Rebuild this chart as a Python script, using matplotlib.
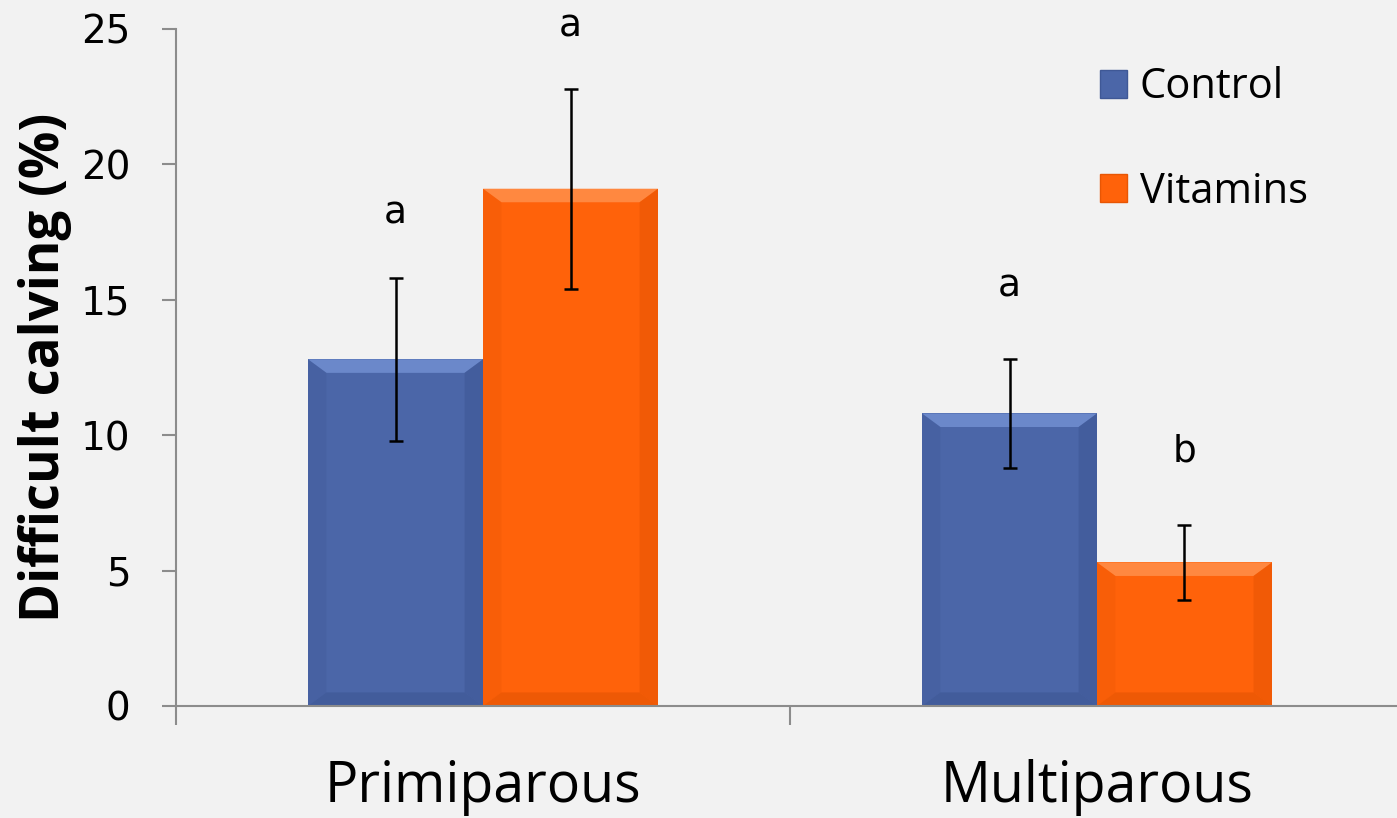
"""
Difficult calving (%) by parity and treatment - grouped bar chart
"""

import numpy as np
import matplotlib.pyplot as plt
from matplotlib.patches import Polygon

# =============================================================================
# 1. Data
# =============================================================================

groups = ["Primiparous", "Multiparous"]
series = ["Control", "Vitamins"]
control_vals = [12.8, 10.8]
vitamins_vals = [19.1, 5.3]
control_err = [3.0, 2.0]
vitamins_err = [3.7, 1.4]
control_letters = ["a", "a"]
vitamins_letters = ["a", "b"]
# height (in %) where each significance letter sits
control_letter_y = [18.2, 15.5]
vitamins_letter_y = [25.1, 9.4]
yticks = [0, 5, 10, 15, 20, 25]

# =============================================================================
# 2. Styles
# =============================================================================

bg = "#f2f2f2"
axis_gray = "#8c8c8c"
colors = {
    "Control": ("#4b66a8", "#6b88ca", "#3f5896"),
    "Vitamins": ("#ff620a", "#ff8840", "#e85604"),
}
bar_w = 0.285
offsets = [-bar_w / 2, bar_w / 2]

fig = plt.figure(figsize=(13.97, 8.18), dpi=100, facecolor=bg)
ax = fig.add_axes([0.126, 0.137, 1.005 - 0.126, 0.8276])
ax.set_facecolor(bg)

x = np.arange(len(groups))


def bevel_bar(ax, xc, h, w, main, light, dark):
    """Draw a bar with a soft bevel look (lighter top, darker sides)."""
    x0, x1 = xc - w / 2, xc + w / 2
    bx, by = 0.03, 0.5  # bevel size in data units
    by = min(by, h / 4)
    ax.add_patch(Polygon([(x0, 0), (x1, 0), (x1, h), (x0, h)],
                         closed=True, facecolor=main, edgecolor="none", zorder=2))
    # top
    ax.add_patch(Polygon([(x0, h), (x1, h), (x1 - bx, h - by), (x0 + bx, h - by)],
                         closed=True, facecolor=light, edgecolor="none", zorder=2))
    # left / right
    ax.add_patch(Polygon([(x0, 0), (x0 + bx, by), (x0 + bx, h - by), (x0, h)],
                         closed=True, facecolor=dark, edgecolor="none", alpha=0.3, zorder=2))
    ax.add_patch(Polygon([(x1, 0), (x1 - bx, by), (x1 - bx, h - by), (x1, h)],
                         closed=True, facecolor=dark, edgecolor="none", alpha=0.6, zorder=2))
    # bottom
    ax.add_patch(Polygon([(x0, 0), (x1, 0), (x1 - bx, by), (x0 + bx, by)],
                         closed=True, facecolor=dark, edgecolor="none", alpha=0.7, zorder=2))


all_vals = [control_vals, vitamins_vals]
all_errs = [control_err, vitamins_err]
all_letters = [control_letters, vitamins_letters]
all_letter_y = [control_letter_y, vitamins_letter_y]

for s, name in enumerate(series):
    main, light, dark = colors[name]
    for i in range(len(groups)):
        xc = x[i] + offsets[s]
        bevel_bar(ax, xc, all_vals[s][i], bar_w, main, light, dark)
        ax.errorbar(xc, all_vals[s][i], yerr=all_errs[s][i], fmt="none",
                    ecolor="black", elinewidth=1.8, capsize=5, capthick=1.8,
                    zorder=3)
        ax.text(xc, all_letter_y[s][i], all_letters[s][i],
                ha="center", va="center", fontsize=27, clip_on=False,
                family="DejaVu Sans")

# =============================================================================
# 3. Axes
# =============================================================================

ax.set_xlim(-0.5, 1.5)
ax.set_ylim(0, 25)
ax.set_yticks(yticks)
ax.tick_params(axis="y", direction="out", length=10, width=1.5,
               color=axis_gray, labelsize=28, pad=23)
ax.set_xticks([-0.5, 0.5, 1.5])
ax.set_xticklabels([])
ax.tick_params(axis="x", which="major", direction="out", length=14,
               width=1.5, color=axis_gray)
ax.set_xticks(x, minor=True)
ax.set_xticklabels(groups, minor=True, fontsize=40, family="Open Sans")
ax.tick_params(axis="x", which="minor", length=0, pad=38)

for side in ["top", "right"]:
    ax.spines[side].set_visible(False)
for side in ["left", "bottom"]:
    ax.spines[side].set_color(axis_gray)
    ax.spines[side].set_linewidth(1.5)

ax.set_ylabel("Difficult calving (%)", fontsize=38, fontweight="bold",
              family="Open Sans", labelpad=6)

# Legend built from the series colours
handles = [plt.Rectangle((0, 0), 1, 1, facecolor=colors[n][0],
                         edgecolor=colors[n][2], linewidth=1) for n in series]
leg = ax.legend(handles, series, loc="upper left",
                bbox_to_anchor=(0.722, 1.0), frameon=False,
                prop={"family": "Open Sans", "size": 30},
                handlelength=0.65, handleheight=0.65, handletextpad=0.3,
                labelspacing=1.5)

plt.savefig("out.png", dpi=100, facecolor=bg)
plt.close()
